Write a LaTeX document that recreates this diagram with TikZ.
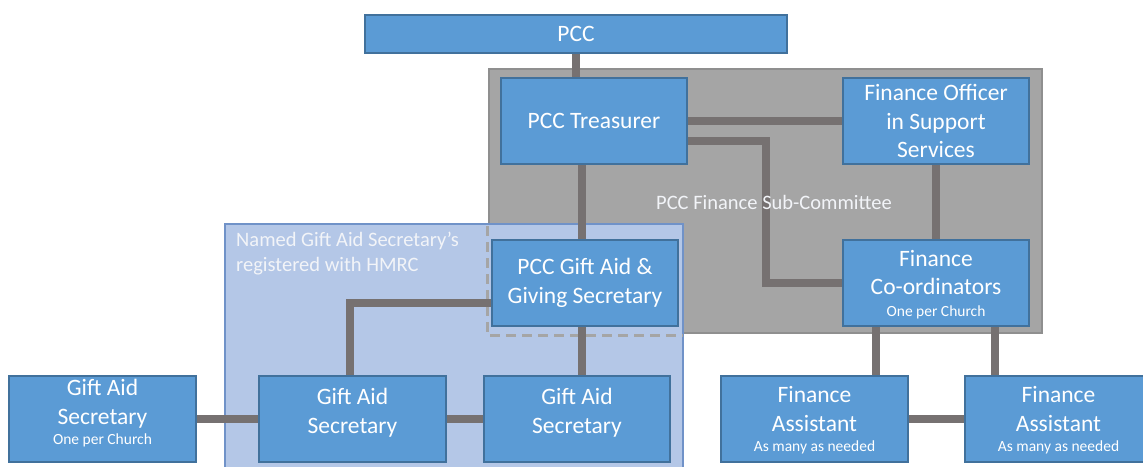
\documentclass[tikz,border=0pt]{standalone}
\usepackage{fontspec}
\setmainfont{Carlito}
\definecolor{boxfill}{HTML}{5B9BD5}
\definecolor{boxline}{HTML}{41719C}
\definecolor{linkgrey}{HTML}{767171}
\definecolor{subfill}{HTML}{A5A5A5}
\definecolor{subline}{HTML}{8F8F8F}
\definecolor{hmrcfill}{HTML}{B4C7E7}
\definecolor{hmrcline}{HTML}{7092C8}
\definecolor{notetext}{HTML}{F2F4F8}
\newcommand{\boxfont}{\fontsize{23.5}{28.5}\selectfont}
\newcommand{\subfont}{\fontsize{15.5}{18}\selectfont}
\newcommand{\notefont}{\fontsize{20.5}{25}\selectfont}
\tikzset{
  post/.style={draw=boxline, fill=boxfill, line width=1.2pt, text=white, align=center,
    minimum width=187pt, minimum height=86pt, inner sep=0pt, font=\boxfont},
  link/.style={draw=linkgrey, line width=8pt},
  note/.style={text=notetext, font=\notefont, inner sep=0pt}
}
\begin{document}
\begin{tikzpicture}[x=1pt,y=-1pt]
\useasboundingbox (0,0) rectangle (1143,466);
% regions
\draw[fill=subfill, draw=subline, line width=1.2pt] (489,69) rectangle (1042,333);
\draw[fill=hmrcfill, draw=hmrcline, line width=1.2pt] (225,224) rectangle (683,475);
\draw[subfill, line width=3pt, dash pattern=on 10pt off 6pt] (487,226) -- (487,335) -- (683,335);
% posts
\node[post, minimum width=422pt, minimum height=38pt] (pcc) at (576,34) {PCC};
\node[post, minimum width=186pt] (trs) at (594,121) {PCC Treasurer};
\node[post, minimum width=186pt] (fo) at (936,121) {Finance Officer\\in Support\\Services};
\node[post, minimum width=186pt, text depth=0pt] (fc) at (936,283) {Finance\\Co-ordinators\\[-7pt]{\subfont One per Church}};
\node[post, minimum width=186pt] (gag) at (585,283) {PCC Gift Aid \&\\Giving Secretary};
\node[post, text depth=14pt] (gas1) at (102.5,419) {Gift Aid\\Secretary\\[-8pt]{\subfont One per Church}};
\node[post, text depth=16pt] (gas2) at (352.5,419) {Gift Aid\\Secretary};
\node[post, minimum width=186pt, text depth=16pt] (gas3) at (577,419) {Gift Aid\\Secretary};
\node[post, text depth=0pt] (fa1) at (814.5,419) {Finance\\Assistant\\[-8pt]{\subfont As many as needed}};
\node[post, text depth=0pt] (fa2) at (1058.5,419) {Finance\\Assistant\\[-8pt]{\subfont As many as needed}};
% links
\draw[link] (pcc.south) -- (pcc.south |- trs.north);
\draw[link] (trs) -- (fo);
\draw[link] ([yshift=-20pt]trs.east) -| ([xshift=-76pt]fc.west) -- (fc.west);
\draw[link] ([xshift=-12pt]trs.south) -- ([xshift=-12pt]trs.south |- gag.north);
\draw[link] (fo) -- (fc);
\draw[link] ([xshift=-60pt]fc.south) -- ([xshift=-60pt]fc.south |- fa1.north);
\draw[link] ([xshift=59pt]fc.south) -- ([xshift=59pt]fc.south |- fa2.north);
\draw[link] (fa1) -- (fa2);
\draw[link] ([xshift=-3pt]gag.south) -- ([xshift=-3pt]gag.south |- gas3.north);
\draw[link] ([yshift=-20pt]gag.west) -| ([xshift=-3pt]gas2.north);
\draw[link] (gas2) -- (gas3);
\draw[link] (gas1) -- (gas2);
% notes
\node[note, anchor=west] (subc) at (656,202) {PCC Finance Sub-Committee};
\node[note, anchor=north west, align=left] (named) at (236,232) {Named Gift Aid Secretary’s\\registered with HMRC};
\end{tikzpicture}
\end{document}
